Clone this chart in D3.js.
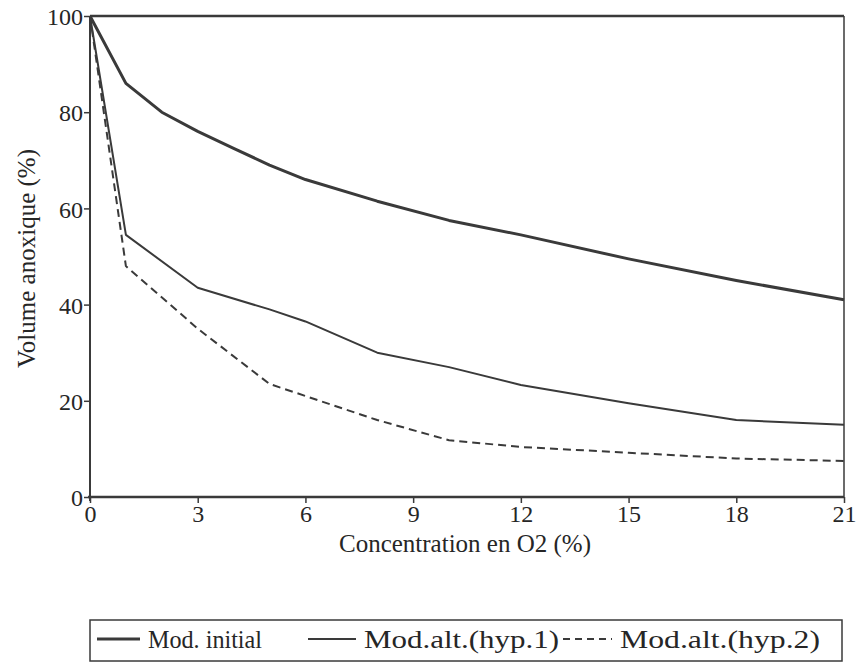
<!DOCTYPE html>
<html>
<head>
<meta charset="utf-8">
<script src="https://cdn.jsdelivr.net/npm/d3@7"></script>
<style>
  body { margin: 0; background: #fff; }
  svg text { font-family: "Liberation Serif", "Times New Roman", Tinos, serif !important; }
</style>
</head>
<body>
<div id="area"></div>
<script>
// values
var xTicks = [0, 3, 6, 9, 12, 15, 18, 21];
var yTicks = [0, 20, 40, 60, 80, 100];

var initX = [0, 1, 2, 3, 4, 5, 6, 8, 10, 12, 15, 18, 21];
var initY = [100, 86, 80, 76, 72.5, 69, 66, 61.5, 57.5, 54.5, 49.5, 45, 41];

var hyp1X = [0, 1, 3, 5, 6, 8, 10, 12, 15, 18, 21];
var hyp1Y = [100, 54.5, 43.5, 39, 36.5, 30, 27, 23.3, 19.5, 16, 15];

var hyp2X = [0, 1, 3, 5, 8, 10, 12, 15, 18, 21];
var hyp2Y = [100, 48, 35, 23.5, 16, 11.8, 10.4, 9.2, 8, 7.5];

var seriesNames = ["Mod. initial", "Mod.alt.(hyp.1)", "Mod.alt.(hyp.2)"];

var txt = "#262626";

var width = 858, height = 665;
var margin_left = 90, margin_right = 14, margin_top = 16, margin_bottom = 168;
var w = width - margin_left - margin_right;
var h = height - margin_top - margin_bottom;

var root = d3.select("#area")
.append("svg")
  .attr("width", width)
  .attr("height", height)
  .attr("font-family", "Liberation Serif");

var svg = root.append("g")
  .attr("transform", "translate(" + margin_left + "," + margin_top + ")");

var x = d3.scaleLinear().domain([0, 21]).range([0, w]);
var y = d3.scaleLinear().domain([0, 100]).range([h, 0]);

var ink = "#3a3a3a";

// x axis
var gx = svg.append("g")
  .attr("transform", "translate(0," + h + ")")
  .call(d3.axisBottom(x).tickValues(xTicks).tickSize(6).tickPadding(2));

// y axis
var gy = svg.append("g")
  .call(d3.axisLeft(y).tickValues(yTicks).tickSize(6).tickPadding(1));
gy.selectAll("text").attr("dy", "0.36em");

gx.attr("font-family", "Liberation Serif").attr("font-size", 24);
gy.attr("font-family", "Liberation Serif").attr("font-size", 24);

svg.selectAll(".domain").remove();
svg.selectAll(".tick line").attr("stroke", ink).attr("stroke-width", 1.5);
svg.selectAll(".tick text").attr("fill", txt).style("font-size", "24px");

// frame
svg.append("line").attr("x1", 0).attr("x2", 0).attr("y1", 0).attr("y2", h + 4)
  .attr("stroke", ink).attr("stroke-width", 2);
svg.append("line").attr("x1", -2).attr("x2", w).attr("y1", h).attr("y2", h)
  .attr("stroke", ink).attr("stroke-width", 2.5);
svg.append("line").attr("x1", 0).attr("x2", w).attr("y1", 0).attr("y2", 0)
  .attr("stroke", ink).attr("stroke-width", 2.5);
svg.append("line").attr("x1", w).attr("x2", w).attr("y1", 0).attr("y2", h)
  .attr("stroke", ink).attr("stroke-width", 1.5);

// axis titles
svg.append("text")
  .attr("x", w / 2 - 2).attr("y", h + 55)
  .attr("text-anchor", "middle")
  .style("font-size", "25px").attr("fill", txt)
  .text("Concentration en O2 (%)");

svg.append("text")
  .attr("transform", "translate(" + (-55) + "," + (h / 2 + 2) + ") rotate(-90)")
  .attr("text-anchor", "middle")
  .style("font-size", "25px").attr("fill", txt)
  .text("Volume anoxique (%)");

var line = d3.line()
  .x(function(d) { return x(d[0]); })
  .y(function(d) { return y(d[1]); });

var series = [
  { pts: d3.zip(initX, initY), sw: 3, dash: null },
  { pts: d3.zip(hyp1X, hyp1Y), sw: 2, dash: null },
  { pts: d3.zip(hyp2X, hyp2Y), sw: 2, dash: "8,5" }
];

svg.selectAll(".serie")
.data(series)
.enter()
.append("path")
  .attr("class", "serie")
  .attr("d", function(d) { return line(d.pts); })
  .attr("fill", "none")
  .attr("stroke", ink)
  .attr("stroke-width", function(d) { return d.sw; })
  .attr("stroke-dasharray", function(d) { return d.dash; })
  .attr("stroke-linejoin", "round");

// legend box
var lg = svg.append("g").attr("transform", "translate(0," + (h + 123) + ")");
lg.append("rect")
  .attr("x", 0).attr("y", 0).attr("width", w - 2).attr("height", 41)
  .attr("fill", "none").attr("stroke", ink).attr("stroke-width", 1.5);

var legX = [7, 218, 473];
var legLen = [43, 48, 49];
var legTextW = [114, 195, 200];
seriesNames.forEach(function(name, i) {
  lg.append("line")
    .attr("x1", legX[i]).attr("x2", legX[i] + legLen[i])
    .attr("y1", 19).attr("y2", 19)
    .attr("stroke", ink)
    .attr("stroke-width", series[i].sw)
    .attr("stroke-dasharray", series[i].dash ? "7,5" : null);
  lg.append("text")
    .attr("x", legX[i] + legLen[i] + 8).attr("y", 28)
    .attr("textLength", legTextW[i])
    .attr("lengthAdjust", "spacingAndGlyphs")
    .style("font-size", "25px").attr("fill", txt)
    .text(name);
});
</script>
</body>
</html>
